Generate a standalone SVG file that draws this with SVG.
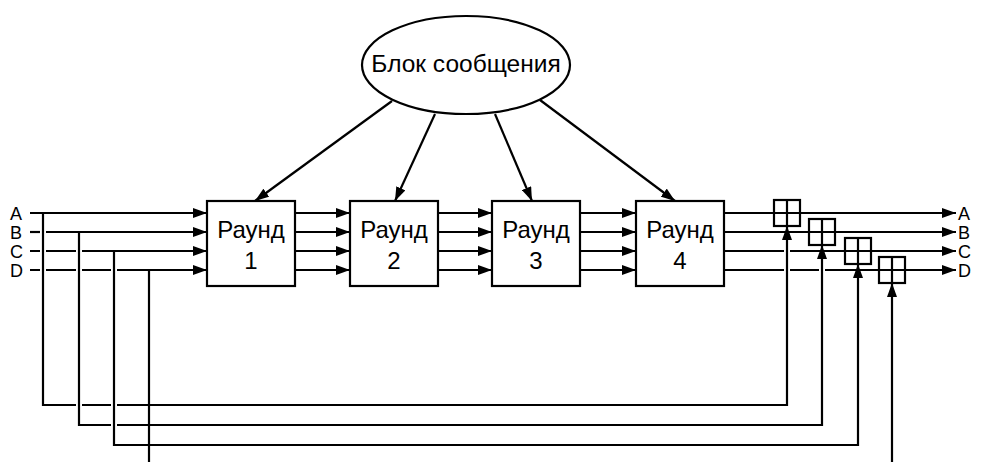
<svg xmlns="http://www.w3.org/2000/svg" width="984" height="462" viewBox="0 0 984 462">
<defs>
<marker id="ah" markerUnits="userSpaceOnUse" markerWidth="15" markerHeight="10" refX="14" refY="5" orient="auto">
<path d="M0,0 L14,5 L0,10 z" fill="#000"/>
</marker>
</defs>
<style>
.ln{fill:none;stroke:#000;stroke-width:2.2}
.arr{fill:none;stroke:#000;stroke-width:2.2;marker-end:url(#ah)}
.box{fill:#fff;stroke:#000;stroke-width:2.2}
.xor{fill:#fff;stroke:#000;stroke-width:2.2}
.t{font-family:"Liberation Sans",Arial,sans-serif;fill:#000}
.rt{font-size:24px;text-anchor:middle}
.lb{font-size:18px}
</style>
<rect width="984" height="462" fill="#fff"/>
<g id="connectors">
<path class="arr" d="M392,101 L255,201"/>
<path class="arr" d="M435,114 L395,201"/>
<path class="arr" d="M495,114 L532,201"/>
<path class="arr" d="M540,100 L675,201"/>
<path class="arr" d="M30,213 H207"/>
<path class="ln" d="M30,232 H40"/><path class="arr" d="M46,232 H207"/>
<path class="ln" d="M30,251 H40 M46,251 H76"/><path class="arr" d="M82,251 H207"/>
<path class="ln" d="M30,270 H40 M46,270 H76 M82,270 H111"/><path class="arr" d="M117,270 H207"/>
<path class="arr" d="M295,213 H350"/><path class="arr" d="M295,232 H350"/><path class="arr" d="M295,251 H350"/><path class="arr" d="M295,270 H350"/>
<path class="arr" d="M438,213 H492"/><path class="arr" d="M438,232 H492"/><path class="arr" d="M438,251 H492"/><path class="arr" d="M438,270 H492"/>
<path class="arr" d="M580,213 H636"/><path class="arr" d="M580,232 H636"/><path class="arr" d="M580,251 H636"/><path class="arr" d="M580,270 H636"/>
<path class="arr" d="M724,213 H956"/>
<path class="arr" d="M724,232 H956"/>
<path class="ln" d="M724,251 H784"/><path class="arr" d="M790,251 H956"/>
<path class="ln" d="M724,270 H784 M790,270 H819"/><path class="arr" d="M825,270 H956"/>
<path class="ln" d="M43,213 V405 H76 M82,405 H111"/><path class="arr" d="M117,405 H787 V226"/>
<path class="ln" d="M79,232 V425 H111"/><path class="arr" d="M117,425 H822 V245"/>
<path class="arr" d="M114,251 V445 H858 V264"/>
<path class="ln" d="M149,270 V462"/>
<path class="arr" d="M892,462 V283"/>
</g>
<g id="msg">
<ellipse cx="466" cy="65" rx="104" ry="49" class="box"/>
<text class="t" x="466" y="72" font-size="24.5" text-anchor="middle">Блок сообщения</text>
</g>
<g id="round1"><rect class="box" x="207" y="201" width="88" height="85"/><text class="t rt" x="251" y="238">Раунд</text><text class="t rt" x="251" y="269">1</text></g>
<g id="round2"><rect class="box" x="350" y="201" width="88" height="85"/><text class="t rt" x="394" y="238">Раунд</text><text class="t rt" x="394" y="269">2</text></g>
<g id="round3"><rect class="box" x="492" y="201" width="88" height="85"/><text class="t rt" x="536" y="238">Раунд</text><text class="t rt" x="536" y="269">3</text></g>
<g id="round4"><rect class="box" x="636" y="201" width="88" height="85"/><text class="t rt" x="680" y="238">Раунд</text><text class="t rt" x="680" y="269">4</text></g>
<g id="xorA"><rect class="xor" x="774" y="200" width="26" height="26"/><path class="ln" d="M774,213 H800 M787,200 V226"/></g>
<g id="xorB"><rect class="xor" x="809" y="219" width="26" height="26"/><path class="ln" d="M809,232 H835 M822,219 V245"/></g>
<g id="xorC"><rect class="xor" x="845" y="238" width="26" height="26"/><path class="ln" d="M845,251 H871 M858,238 V264"/></g>
<g id="xorD"><rect class="xor" x="879" y="257" width="26" height="26"/><path class="ln" d="M879,270 H905 M892,257 V283"/></g>
<g id="labels-in">
<text class="t lb" x="10" y="220">A</text>
<text class="t lb" x="10" y="239">B</text>
<text class="t lb" x="10" y="258">C</text>
<text class="t lb" x="10" y="277">D</text>
</g>
<g id="labels-out">
<text class="t lb" x="958" y="220">A</text>
<text class="t lb" x="958" y="239">B</text>
<text class="t lb" x="958" y="258">C</text>
<text class="t lb" x="958" y="277">D</text>
</g>
</svg>
